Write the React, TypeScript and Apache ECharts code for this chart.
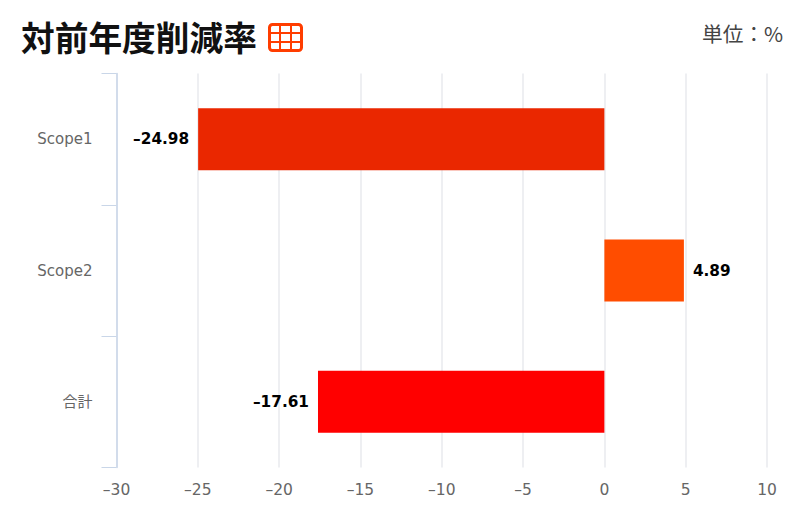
import React, { useEffect, useRef } from "react";
import * as echarts from "echarts";

const categories = ["Scope1", "Scope2", "合計"];
const values = [-24.98, 4.89, -17.61];
const barColors = ["#EA2700", "#FF4D00", "#FF0000"];
const titleText = "対前年度削減率";
const unitText = "単位：%";
const dash = (s: string | number) => String(s).replace("-", "–");
const FONT = '"Noto Sans CJK JP", "Noto Sans", sans-serif';
const LATIN = '"DejaVu Sans", "Noto Sans CJK JP", sans-serif';
const ICON = "#FF3D00";

export default function App() {
  const ref = useRef<HTMLDivElement>(null);
  useEffect(() => {
    const chart = echarts.init(ref.current!, undefined, { renderer: "svg" });
    const iconLines = [
      [280, 24, 280, 50], [291, 24, 291, 50],
      [269, 33, 302, 33], [269, 42, 302, 42],
    ];
    chart.setOption({
      animation: false,
      backgroundColor: "#fff",
      grid: { left: 116.5, right: 41, top: 73.5, bottom: 61.5, containLabel: false },
      xAxis: {
        type: "value", min: -30, max: 10, interval: 5,
        axisLine: { show: false }, axisTick: { show: false },
        splitLine: { show: true, lineStyle: { color: "#E8EAEE", width: 1.5 } },
        axisLabel: {
          color: "#666", fontSize: 15.5, fontFamily: LATIN, margin: 15,
          formatter: (v: number) => dash(v),
        },
      },
      yAxis: {
        type: "category", inverse: true, data: categories,
        axisLine: { show: true, lineStyle: { color: "#C9D6E8", width: 1.5 }, onZero: false },
        axisTick: { show: true, length: 15, lineStyle: { color: "#C9D6E8", width: 1 } },
        axisLabel: { color: "#666", fontSize: 15, fontFamily: LATIN, margin: 24, padding: [2, 0, 0, 0] },
      },
      series: [{
        type: "bar", barWidth: 62,
        data: values.map((v, i) => ({ value: v, itemStyle: { color: barColors[i] } })),
        label: {
          show: true, position: "outside", distance: 9,
          color: "#000", fontSize: 15.3, fontWeight: "bold", fontFamily: LATIN,
          padding: [1, 0, 0, 0],
          formatter: (p: any) => dash(p.value),
        },
      }],
      graphic: [
        { type: "text", x: 21, y: 20, style: { text: titleText, fontSize: 33.7, fontWeight: "bold", fontFamily: FONT, fill: "#111" } },
        { type: "text", x: 702, y: 23, style: { text: unitText, fontSize: 20.7, fontFamily: FONT, fill: "#444" } },
        { type: "rect", shape: { x: 269.5, y: 24.5, width: 32, height: 26, r: 3 }, style: { fill: "#fff", stroke: ICON, lineWidth: 3 } },
        ...iconLines.map(([x1, y1, x2, y2]) => ({
          type: "line", shape: { x1, y1, x2, y2 }, style: { stroke: ICON, lineWidth: 2 },
        })),
      ],
    });
    return () => chart.dispose();
  }, []);
  return <div ref={ref} style={{ position: "absolute", left: 0, top: 0, width: 808, height: 529 }} />;
}
